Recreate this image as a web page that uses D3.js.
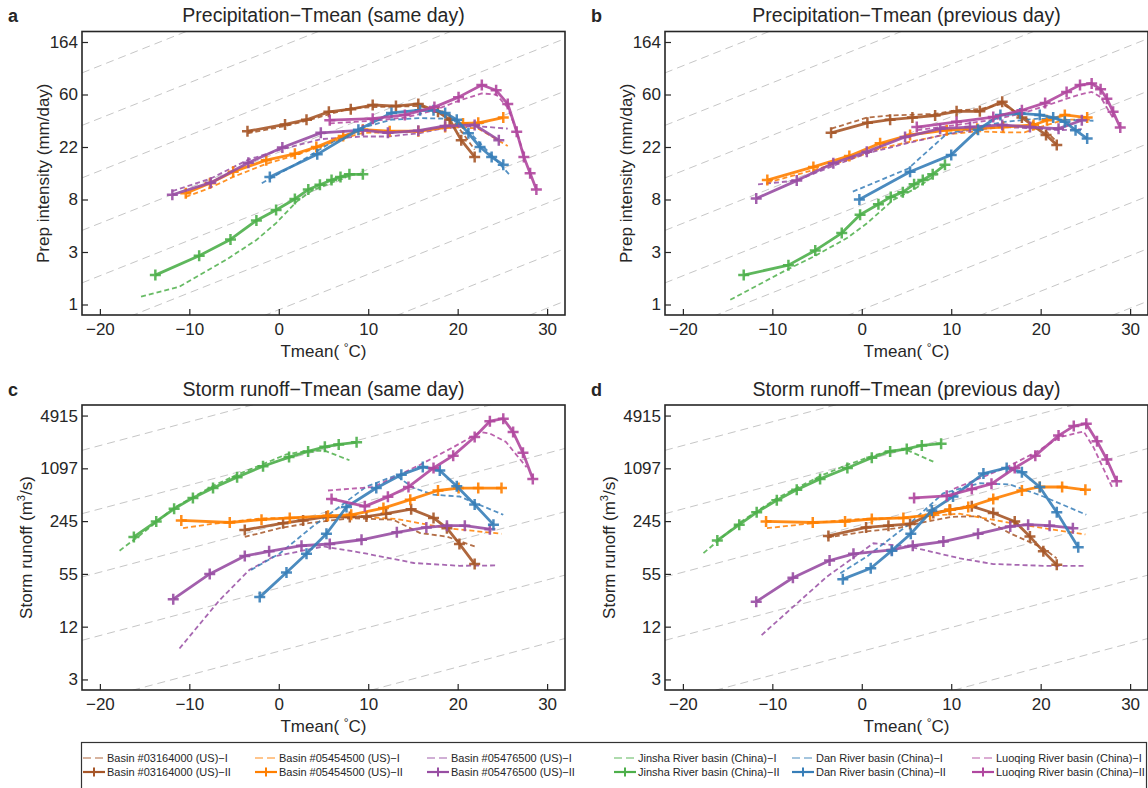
<!DOCTYPE html>
<html>
<head>
<meta charset="utf-8">
<script src="https://cdn.jsdelivr.net/npm/d3@7"></script>
<style>
body { margin: 0; background: #fff; }
svg text { font-family: "Liberation Sans", Arial, sans-serif; fill: #262626; }
</style>
</head>
<body>
<script>
// values are [Tmean (°C), ln(value)]
var basinNames = ["Basin #03164000 (US)", "Basin #05454500 (US)", "Basin #05476500 (US)",
    "Jinsha River basin (China)", "Dan River basin (China)", "Luoqing River basin (China)"];
var basinColors = ["#a65628", "#ff7f00", "#984ea3", "#4daf4a", "#377eb8", "#b0479f"];

var tempDomain = [-22, 32];
var tempTicks = [-20, -10, 0, 10, 20, 30];
var precipDomain = [-0.1, 5.3];
var precipTicks = [0.1, 1.1, 2.1, 3.1, 4.1, 5.1];
var runoffDomain = [0.7, 8.8];
var runoffTicks = [1, 2.5, 4, 5.5, 7, 8.5];
// intercepts of the 7%/°C reference lines
var precipCC = [-2, -1, 0, 1, 2, 3, 4, 5, 6, 7];
var runoffCC = [-1.8, 0, 1.8, 3.6, 5.4, 7.2, 9.0, 10.8];
var ccSlope = Math.log(1.07);

// a: precipitation, same day
var a_03164000_I = [[-3.5,3.36],[0.7,3.50],[3.1,3.60],[5.6,3.72],[8.05,3.84],[10.5,3.86],[13.1,3.87],[15.6,3.88],[17.8,3.80],[19.1,3.68],[20.4,3.40],[21.9,3.05]];
var a_03164000_II = [[-3.5,3.40],[0.7,3.53],[3.1,3.62],[5.6,3.77],[8.05,3.82],[10.5,3.90],[13.1,3.88],[15.6,3.92],[17.8,3.77],[19.1,3.62],[20.4,3.23],[21.9,2.91]];
var a_05454500_I = [[-10.4,2.15],[-7.7,2.32],[-5.1,2.53],[-1.4,2.78],[1.8,2.94],[4.2,3.08],[7.2,3.26],[9.4,3.37],[12.4,3.38],[15.6,3.40],[18.6,3.46],[20.6,3.48],[22.3,3.45],[25.6,3.12]];
var a_05454500_II = [[-10.4,2.22],[-7.7,2.41],[-5.1,2.63],[-1.4,2.85],[1.8,2.97],[4.2,3.10],[7.2,3.31],[9.4,3.43],[12.4,3.40],[15.6,3.40],[18.6,3.48],[20.6,3.55],[22.3,3.56],[25.1,3.66]];
var a_05476500_I = [[-11.9,2.26],[-7.6,2.50],[-3.4,2.86],[0.4,3.06],[4.7,3.25],[9.4,3.30],[12.2,3.30],[15.6,3.36],[18.6,3.46],[21.9,3.50],[25.6,3.45]];
var a_05476500_II = [[-11.9,2.19],[-7.6,2.42],[-3.4,2.80],[0.4,3.09],[4.7,3.37],[9.4,3.42],[12.2,3.37],[15.6,3.41],[18.6,3.50],[21.9,3.52],[24.6,3.23]];
var a_jinsha_I = [[-15.4,0.25],[-11.1,0.44],[-5.9,0.95],[-2.5,1.33],[-0.3,1.65],[2.0,2.06],[3.8,2.28],[5.9,2.42],[7.9,2.55]];
var a_jinsha_II = [[-13.8,0.66],[-8.9,1.03],[-5.4,1.34],[-2.5,1.70],[-0.3,1.90],[1.8,2.11],[3.3,2.29],[4.6,2.38],[5.9,2.47],[6.9,2.53],[7.9,2.58],[9.4,2.58]];
var a_dan_I = [[-1.9,2.41],[2.0,2.78],[5.5,3.15],[9.0,3.45],[12.6,3.62],[15.8,3.65],[18.6,3.64],[19.9,3.58],[21.5,3.35],[23.6,2.98],[25.8,2.57]];
var a_dan_II = [[-1.0,2.53],[4.3,2.96],[8.9,3.43],[12.6,3.75],[15.8,3.80],[17.3,3.80],[18.6,3.75],[19.9,3.62],[21.2,3.36],[22.5,3.10],[23.8,2.91],[25.1,2.76]];
var a_luoqing_I = [[5.7,3.55],[10.5,3.60],[14.1,3.66],[17.4,3.80],[20.1,3.98],[22.7,4.12],[24.3,4.10],[25.6,3.85],[26.6,3.40],[27.4,2.95]];
var a_luoqing_II = [[5.7,3.61],[10.5,3.64],[14.1,3.71],[17.4,3.86],[20.1,4.05],[22.7,4.28],[24.3,4.18],[25.6,3.92],[26.6,3.39],[27.4,2.91],[28.1,2.60],[28.8,2.29]];

// b: precipitation, previous day
var b_03164000_I = [[-3.4,3.45],[0.6,3.66],[3.2,3.70],[8.2,3.73],[10.6,3.80],[13.2,3.82],[15.7,3.92],[17.9,3.70],[20.6,3.40],[21.8,3.20]];
var b_03164000_II = [[-3.43,3.37],[0.63,3.56],[3.17,3.62],[5.66,3.66],[8.2,3.70],[10.6,3.78],[13.2,3.78],[15.7,3.96],[17.9,3.66],[20.6,3.33],[21.8,3.14]];
var b_05454500_I = [[-10.6,2.42],[-5.4,2.66],[-1.4,2.86],[2.0,3.07],[5.4,3.20],[9.5,3.34],[12.9,3.40],[15.8,3.38],[18.2,3.38],[20.7,3.52],[22.7,3.62],[25.5,3.62]];
var b_05454500_II = [[-10.56,2.47],[-5.41,2.72],[-1.39,2.93],[2.05,3.17],[5.4,3.33],[9.5,3.42],[12.9,3.45],[15.8,3.48],[19.2,3.52],[20.7,3.61],[22.7,3.71],[25.2,3.66]];
var b_05476500_I = [[-11.6,2.39],[-7.3,2.46],[-3.2,2.74],[0.6,2.98],[4.8,3.16],[8.8,3.32],[12.1,3.42],[15.7,3.48],[18.8,3.46],[22.0,3.42],[24.6,3.44]];
var b_05476500_II = [[-11.8,2.12],[-7.27,2.46],[-3.18,2.79],[0.56,3.01],[4.84,3.29],[8.76,3.45],[12.1,3.48],[15.7,3.52],[18.8,3.48],[22.0,3.45],[24.6,3.61]];
var b_jinsha_I = [[-14.7,0.19],[-8.4,0.76],[-5.4,1.01],[-1.7,1.36],[0.6,1.65],[3.5,2.09],[5.9,2.30],[7.9,2.52]];
var b_jinsha_II = [[-13.2,0.66],[-8.2,0.85],[-5.2,1.13],[-2.24,1.46],[-0.19,1.81],[1.86,2.01],[3.24,2.15],[4.59,2.24],[5.85,2.39],[6.82,2.47],[7.93,2.58],[9.3,2.76]];
var b_dan_I = [[-1.0,2.25],[5.2,2.69],[9.5,3.35],[13.0,3.48],[16.0,3.58],[19.7,3.64],[22.5,3.62],[25.9,3.60]];
var b_dan_II = [[-0.27,2.10],[5.4,2.63],[10.0,2.95],[13.0,3.43],[15.5,3.71],[17.7,3.74],[19.9,3.71],[21.4,3.66],[22.7,3.58],[23.9,3.42],[25.2,3.26]];
var b_luoqing_I = [[6.2,3.42],[10.6,3.52],[14.7,3.62],[17.9,3.74],[20.5,3.88],[22.9,4.02],[24.4,4.10],[25.7,4.15],[26.7,4.05],[27.4,3.85],[28.1,3.65]];
var b_luoqing_II = [[6.15,3.48],[10.6,3.58],[14.7,3.67],[17.9,3.80],[20.5,3.94],[22.9,4.15],[24.4,4.28],[25.7,4.31],[26.7,4.20],[27.4,4.02],[28.1,3.77],[28.9,3.47]];

// c: storm runoff, same day
var c_03164000_I = [[-3.8,5.05],[0.11,5.30],[3.5,5.45],[8.0,5.58],[12.8,5.54],[15.8,5.16],[18.8,5.06],[21.9,4.78]];
var c_03164000_II = [[-3.8,5.25],[0.48,5.44],[2.72,5.52],[5.33,5.63],[7.94,5.62],[9.8,5.63],[12.0,5.71],[14.8,5.84],[17.3,5.59],[18.8,5.30],[20.2,4.85],[21.9,4.28]];
var c_05454500_I = [[-10.7,5.30],[-7.5,5.42],[-1.93,5.58],[3.5,5.60],[8.5,5.64],[13.2,5.56],[18.8,5.30],[24.9,5.14]];
var c_05454500_II = [[-10.9,5.52],[-5.48,5.46],[-1.93,5.54],[1.23,5.59],[5.5,5.65],[8.1,5.68],[11.7,5.87],[14.7,6.11],[17.8,6.37],[20.1,6.44],[22.3,6.44],[24.9,6.44]];
var c_05476500_I = [[-11.1,1.88],[-6.6,3.26],[-3.3,4.11],[-0.6,4.49],[5.0,4.78],[9.5,4.59],[15.1,4.31],[20.2,4.23],[24.3,4.24]];
var c_05476500_II = [[-11.8,3.28],[-7.72,4.0],[-3.8,4.51],[-1.08,4.64],[2.54,4.80],[5.7,4.85],[9.25,4.97],[13.2,5.18],[16.5,5.32],[18.8,5.37],[20.8,5.37],[23.6,5.27]];
var c_jinsha_I = [[-17.8,4.66],[-15,5.2],[-11.7,5.88],[-7.35,6.50],[-4.66,6.82],[-1.76,7.12],[0.86,7.40],[3.28,7.50],[5.15,7.50],[7.9,7.23]];
var c_jinsha_II = [[-16.2,5.05],[-13.7,5.49],[-11.7,5.85],[-9.6,6.16],[-7.35,6.44],[-4.66,6.75],[-1.76,7.06],[1.15,7.32],[3.28,7.48],[5.15,7.61],[6.7,7.68],[8.7,7.74]];
var c_dan_I = [[-3.1,4.11],[0.1,4.58],[3.8,5.35],[7.0,5.95],[9.8,6.48],[13.1,6.80],[15.0,6.45],[17.3,6.25],[20.2,6.2],[25.1,5.68]];
var c_dan_II = [[-2.13,3.34],[0.86,4.04],[3.1,4.57],[5.33,5.14],[7.57,5.90],[10.9,6.44],[13.7,6.82],[16.1,7.04],[18.0,6.94],[19.9,6.49],[21.9,5.97],[24.0,5.40]];
var c_luoqing_I = [[5.5,6.37],[10.6,6.47],[15.8,7.10],[19.5,7.6],[22.5,8.03],[23.6,7.99],[25.4,7.75],[27.7,7.03]];
var c_luoqing_II = [[5.9,6.13],[9.62,5.92],[12.2,6.19],[14.5,6.47],[17.3,7.01],[19.5,7.36],[21.9,7.89],[23.6,8.34],[25.1,8.41],[26.2,8.03],[27.3,7.44],[28.4,6.70]];

// d: storm runoff, previous day
var d_03164000_I = [[-3.9,5.03],[0.56,5.21],[4.0,5.30],[7.3,5.49],[10.0,5.62],[13.1,5.64],[16.6,5.15],[20.3,4.73],[21.8,4.44]];
var d_03164000_II = [[-3.73,5.08],[0.48,5.32],[2.98,5.37],[5.4,5.42],[8.0,5.73],[9.88,5.82],[12.3,5.92],[14.7,5.73],[17.1,5.49],[18.8,5.06],[20.3,4.64],[21.8,4.26]];
var d_05454500_I = [[-10.6,5.30],[-5.5,5.44],[-1.7,5.54],[4.6,5.60],[10.9,5.71],[16.6,5.45],[20.3,5.30],[25.0,5.12]];
var d_05454500_II = [[-10.7,5.49],[-5.48,5.46],[-1.87,5.49],[1.12,5.56],[4.65,5.59],[7.64,5.68],[9.8,5.82],[11.9,5.90],[14.7,6.13],[17.9,6.37],[19.9,6.47],[22.4,6.47],[25.0,6.39]];
var d_05476500_I = [[-11.2,2.26],[-7.65,3.07],[-3.9,3.92],[-1.0,4.45],[1.3,4.87],[5.4,4.77],[11.0,4.44],[14.7,4.28],[20.3,4.23],[24.8,4.23]];
var d_05476500_II = [[-11.8,3.21],[-7.7,3.89],[-3.6,4.38],[-0.93,4.57],[3.36,4.68],[5.7,4.80],[9.12,4.92],[13.0,5.14],[16.6,5.35],[18.6,5.40],[21.0,5.37],[23.6,5.30]];
var d_jinsha_I = [[-17.7,4.59],[-13.7,5.45],[-9.5,6.15],[-4.66,6.78],[-1.61,7.10],[1.12,7.35],[3.17,7.50],[5.03,7.52],[8.0,7.19]];
var d_jinsha_II = [[-16.15,4.95],[-13.7,5.40],[-11.75,5.75],[-9.5,6.09],[-7.27,6.39],[-4.66,6.70],[-1.61,7.01],[1.12,7.30],[3.17,7.48],[5.03,7.55],[6.71,7.65],[8.87,7.70]];
var d_dan_I = [[-2.4,4.02],[0.56,4.49],[5.4,5.44],[9.1,6.29],[13.2,6.58],[16.6,6.54],[20.3,6.2],[25.1,5.68]];
var d_dan_II = [[-2.12,3.85],[1.0,4.16],[3.36,4.66],[5.48,5.14],[7.83,5.80],[10.2,6.2],[13.6,6.85],[16.2,7.01],[17.9,6.89],[19.9,6.47],[21.8,5.75],[24.2,4.76]];
var d_luoqing_I = [[10.3,6.42],[16.2,7.03],[19.4,7.45],[22.2,7.89],[24.8,8.05],[25.9,7.6],[28.1,6.40]];
var d_luoqing_II = [[5.85,6.16],[9.5,6.22],[12.3,6.41],[14.5,6.56],[17.1,7.01],[19.4,7.36],[22.0,7.93],[23.7,8.20],[25.1,8.27],[26.3,7.77],[27.4,7.25],[28.5,6.63]];

var W = 1148, H = 788;
var pw = 483;

var svg = d3.select("body")
    .append("svg")
    .attr("width", W)
    .attr("height", H);

var panels = [
    {id: "a", title: "Precipitation\u2212Tmean (same day)", left: 82, top: 31.5, h: 283.5,
     yDomain: precipDomain, yTicks: precipTicks, cc: precipCC, runoff: false,
     I: [a_03164000_I, a_05454500_I, a_05476500_I, a_jinsha_I, a_dan_I, a_luoqing_I],
     II: [a_03164000_II, a_05454500_II, a_05476500_II, a_jinsha_II, a_dan_II, a_luoqing_II]},
    {id: "b", title: "Precipitation\u2212Tmean (previous day)", left: 665, top: 31.5, h: 283.5,
     yDomain: precipDomain, yTicks: precipTicks, cc: precipCC, runoff: false,
     I: [b_03164000_I, b_05454500_I, b_05476500_I, b_jinsha_I, b_dan_I, b_luoqing_I],
     II: [b_03164000_II, b_05454500_II, b_05476500_II, b_jinsha_II, b_dan_II, b_luoqing_II]},
    {id: "c", title: "Storm runoff\u2212Tmean (same day)", left: 82, top: 405, h: 285,
     yDomain: runoffDomain, yTicks: runoffTicks, cc: runoffCC, runoff: true,
     I: [c_03164000_I, c_05454500_I, c_05476500_I, c_jinsha_I, c_dan_I, c_luoqing_I],
     II: [c_03164000_II, c_05454500_II, c_05476500_II, c_jinsha_II, c_dan_II, c_luoqing_II]},
    {id: "d", title: "Storm runoff\u2212Tmean (previous day)", left: 665, top: 405, h: 285,
     yDomain: runoffDomain, yTicks: runoffTicks, cc: runoffCC, runoff: true,
     I: [d_03164000_I, d_05454500_I, d_05476500_I, d_jinsha_I, d_dan_I, d_luoqing_I],
     II: [d_03164000_II, d_05454500_II, d_05476500_II, d_jinsha_II, d_dan_II, d_luoqing_II]}
];

var plusPath = "M-5.5,0H5.5M0,-5.5V5.5";

panels.forEach(function(p) {
    var g = svg.append("g").attr("transform", "translate(" + p.left + "," + p.top + ")");

    var xScale = d3.scaleLinear().domain(tempDomain).range([0, pw]);
    var yScale = d3.scaleLinear().domain(p.yDomain).range([p.h, 0]);

    g.append("clipPath").attr("id", "clip-" + p.id)
        .append("rect").attr("width", pw).attr("height", p.h);
    var plot = g.append("g").attr("clip-path", "url(#clip-" + p.id + ")");

    // 7%/°C reference lines
    plot.selectAll("line.cc")
        .data(p.cc)
        .enter()
        .append("line")
        .attr("x1", xScale(tempDomain[0]))
        .attr("x2", xScale(tempDomain[1]))
        .attr("y1", function(c) { return yScale(c + ccSlope * tempDomain[0]); })
        .attr("y2", function(c) { return yScale(c + ccSlope * tempDomain[1]); })
        .attr("stroke", "#c6c6c6")
        .attr("stroke-width", 1)
        .attr("stroke-dasharray", "8,5");

    var line = d3.line()
        .x(function(d) { return xScale(d[0]); })
        .y(function(d) { return yScale(d[1]); });

    p.I.forEach(function(s, i) {
        plot.append("path")
            .datum(s)
            .attr("d", line)
            .attr("fill", "none")
            .attr("stroke", basinColors[i])
            .attr("stroke-opacity", 0.85)
            .attr("stroke-width", 1.8)
            .attr("stroke-dasharray", "5,3");
    });

    p.II.forEach(function(s, i) {
        var sg = plot.append("g").attr("stroke", basinColors[i]).attr("stroke-opacity", 0.9);
        sg.append("path")
            .datum(s)
            .attr("d", line)
            .attr("fill", "none")
            .attr("stroke-width", 2.8)
            .attr("stroke-linejoin", "round");
        sg.selectAll("path.mk")
            .data(s)
            .enter()
            .append("path")
            .attr("class", "mk")
            .attr("d", plusPath)
            .attr("stroke-width", 2.5)
            .attr("transform", function(d) {
                return "translate(" + xScale(d[0]) + "," + yScale(d[1]) + ")";
            });
    });

    // axes, ticks pointing inward
    var xAxis = d3.axisBottom(xScale)
        .tickValues(tempTicks)
        .tickSize(-6)
        .tickPadding(8);
    var gx = g.append("g")
        .attr("transform", "translate(0," + p.h + ")")
        .call(xAxis);

    var yAxis = d3.axisLeft(yScale)
        .tickValues(p.yTicks)
        .tickSize(-6)
        .tickPadding(4)
        .tickFormat(function(v) { return Math.round(Math.exp(v)); });
    var gy = g.append("g").call(yAxis);

    [gx, gy].forEach(function(ax) {
        ax.select(".domain").remove();
        ax.selectAll("line").attr("stroke", "#262626").attr("stroke-width", 1.2);
        ax.selectAll("text")
            .attr("font-size", 17)
            .attr("font-family", "'Liberation Sans', Arial, sans-serif")
            .attr("fill", "#262626");
    });

    g.append("rect")
        .attr("width", pw)
        .attr("height", p.h)
        .attr("fill", "none")
        .attr("stroke", "#262626")
        .attr("stroke-width", 1.6);

    // titles and labels
    g.append("text")
        .attr("x", pw / 2)
        .attr("y", -9.5)
        .attr("text-anchor", "middle")
        .attr("font-size", 19.5)
        .text(p.title);

    g.append("text")
        .attr("x", -74)
        .attr("y", -9.5)
        .attr("font-size", 18)
        .attr("font-weight", "bold")
        .text(p.id);

    var xl = g.append("text")
        .attr("x", pw / 2)
        .attr("y", p.h + 42)
        .attr("text-anchor", "middle")
        .attr("font-size", 17);
    xl.append("tspan").text("Tmean( ");
    xl.append("tspan").attr("font-size", 12).attr("dy", -5).text("\u00B0");
    xl.append("tspan").attr("dy", 5).text("C)");

    var yl = g.append("text")
        .attr("transform", "translate(" + (p.runoff ? -50 : -33) + "," + (p.h / 2) + ") rotate(-90)")
        .attr("text-anchor", "middle")
        .attr("font-size", 17);
    if (p.runoff) {
        yl.append("tspan").text("Storm runoff (m");
        yl.append("tspan").attr("font-size", 11).attr("dy", -7).text("3");
        yl.append("tspan").attr("dy", 7).text("/s)");
    } else {
        yl.text("Prep intensity (mm/day)");
    }
});

// legend
var legendX = [83, 255, 427, 614, 792, 972];
var legendRows = [758, 772];

var legend = svg.append("g");
legend.append("rect")
    .attr("x", 81.5)
    .attr("y", 742.5)
    .attr("width", 1065)
    .attr("height", 70)
    .attr("fill", "none")
    .attr("stroke", "#333")
    .attr("stroke-width", 1.2);

basinNames.forEach(function(name, i) {
    var x = legendX[i];
    legend.append("line")
        .attr("x1", x).attr("x2", x + 22)
        .attr("y1", legendRows[0]).attr("y2", legendRows[0])
        .attr("stroke", basinColors[i])
        .attr("stroke-opacity", 0.6)
        .attr("stroke-width", 1.6)
        .attr("stroke-dasharray", "8,4");
    legend.append("text")
        .attr("x", x + 24)
        .attr("y", legendRows[0] + 4)
        .attr("font-size", 11)
        .text(name + "\u2212I");

    legend.append("line")
        .attr("x1", x).attr("x2", x + 22)
        .attr("y1", legendRows[1]).attr("y2", legendRows[1])
        .attr("stroke", basinColors[i])
        .attr("stroke-width", 2.2);
    legend.append("path")
        .attr("d", "M-4.5,0H4.5M0,-4.5V4.5")
        .attr("transform", "translate(" + (x + 11) + "," + legendRows[1] + ")")
        .attr("stroke", basinColors[i])
        .attr("stroke-width", 2);
    legend.append("text")
        .attr("x", x + 24)
        .attr("y", legendRows[1] + 4)
        .attr("font-size", 11)
        .text(name + "\u2212II");
});
</script>
</body>
</html>
